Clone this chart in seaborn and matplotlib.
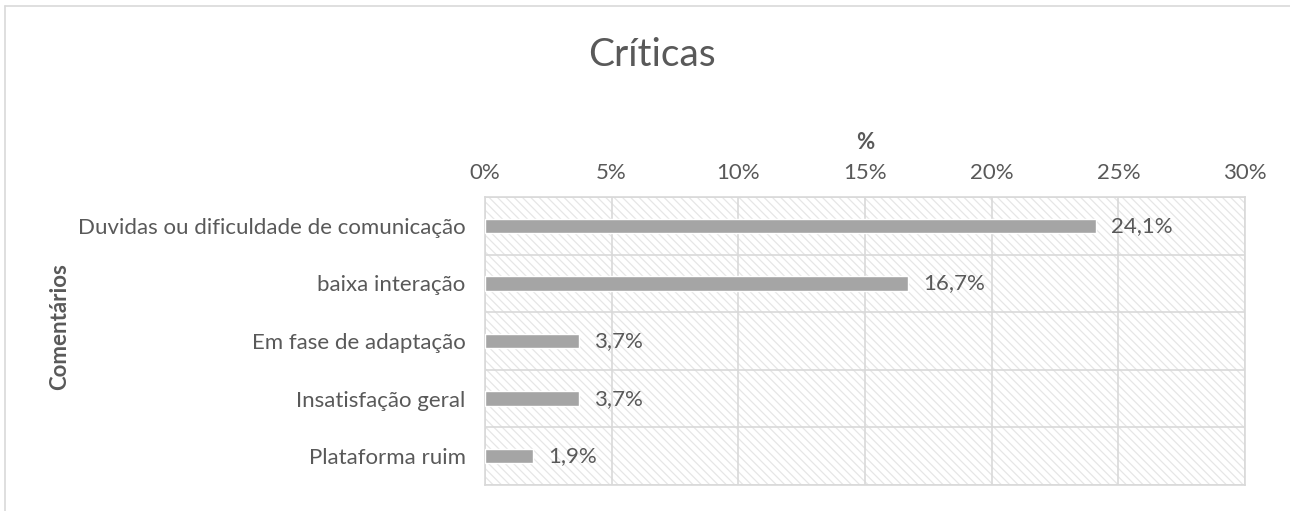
import matplotlib
matplotlib.use("Agg")
import matplotlib.pyplot as plt
import seaborn as sns
import pandas as pd
from matplotlib.patches import Rectangle

categories = [
    "Duvidas ou dificuldade de comunicação",
    "baixa interação",
    "Em fase de adaptação",
    "Insatisfação geral",
    "Plataforma ruim",
]
values = [24.1, 16.7, 3.7, 3.7, 1.9]
ticks = [0, 5, 10, 15, 20, 25, 30]

df = pd.DataFrame({"categoria": categories, "pct": values})

sns.set_theme(style="white")
plt.rcParams["font.family"] = ["Lato", "DejaVu Sans"]
plt.rcParams["hatch.linewidth"] = 0.9
text_col = "#595959"
grid_col = "#D9D9D9"
fs = 16

fig = plt.figure(figsize=(12.9, 5.11), dpi=100)
ax = fig.add_axes([485 / 1290, 1 - 485 / 511, 760 / 1290, 288 / 511])

# hatched plot area background
ax.add_patch(Rectangle((0, 0), 1, 1, transform=ax.transAxes, facecolor="white",
                       edgecolor="#E6E6E6", hatch="\\\\\\\\", linewidth=0, zorder=0))

sns.barplot(data=df, x="pct", y="categoria", color="#A5A5A5", width=0.25,
            saturation=1, ax=ax, zorder=3)

ax.set_xlim(0, 30)
ax.set_xticks(ticks)
ax.set_xticklabels([f"{t}%" for t in ticks])
ax.xaxis.tick_top()
ax.xaxis.set_label_position("top")
ax.tick_params(axis="both", length=0, labelsize=fs, colors=text_col)
ax.tick_params(axis="x", pad=10)
ax.tick_params(axis="y", pad=14)
ax.grid(axis="x", color=grid_col, linewidth=1.2, zorder=1)
for y in [i + 0.5 for i in range(-1, len(categories))]:
    ax.axhline(y, color=grid_col, linewidth=1.2, zorder=1)
for s in ax.spines.values():
    s.set_color(grid_col)
    s.set_linewidth(1.2)
ax.set_axisbelow(True)

ax.set_xlabel("%", fontsize=fs, fontweight="bold", color=text_col, labelpad=10)
ax.set_ylabel("")
fig.text(60 / 1290, 1 - 327 / 511, "Comentários", rotation=90, ha="center", va="center",
         fontsize=fs, fontweight="bold", color=text_col)

for i, v in enumerate(values):
    ax.text(v + 0.6, i, f"{v:.1f}%".replace(".", ","), va="center", ha="left",
            fontsize=fs, color=text_col, zorder=4)

fig.text(652 / 1290, 1 - 55 / 511, "Críticas", ha="center", va="center",
         fontsize=28, color=text_col)

# chart area border (left and top only visible)
fig.add_artist(plt.Line2D([5 / 1290, 5 / 1290], [0, 1 - 6 / 511], transform=fig.transFigure,
                          color=grid_col, linewidth=1.2))
fig.add_artist(plt.Line2D([5 / 1290, 1], [1 - 6 / 511, 1 - 6 / 511], transform=fig.transFigure,
                          color=grid_col, linewidth=1.2))

fig.savefig("out.png", dpi=100)
